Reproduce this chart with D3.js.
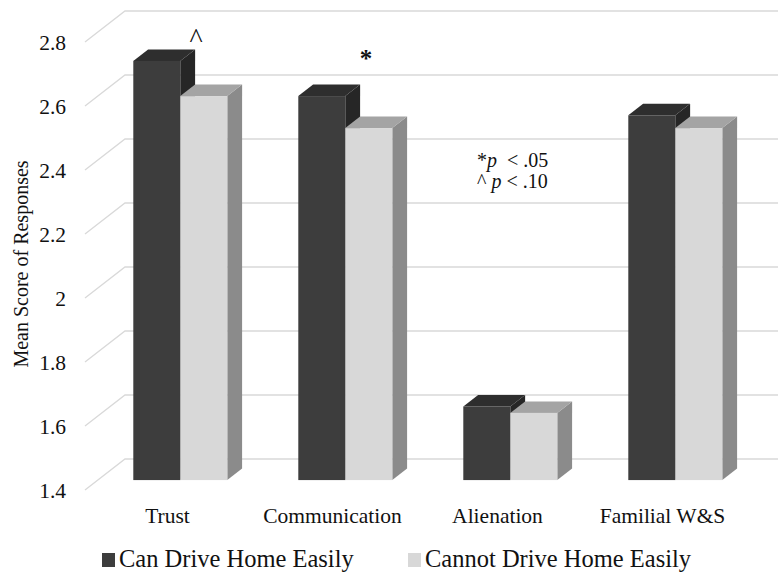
<!DOCTYPE html>
<html>
<head>
<meta charset="utf-8">
<script src="https://cdn.jsdelivr.net/npm/d3@7"></script>
<style>
  html, body { margin: 0; padding: 0; background: #fff; }
  svg { display: block; }
</style>
</head>
<body>
<svg id="chart" width="778" height="574"></svg>
<script>
// ---- data ----
const categories = ["Trust", "Communication", "Alienation", "Familial W&S"];
const seriesNames = ["Can Drive Home Easily", "Cannot Drive Home Easily"];
const canDrive = [2.71, 2.60, 1.63, 2.54];
const cannotDrive = [2.60, 2.50, 1.61, 2.50];
const yTicks = [1.4, 1.6, 1.8, 2, 2.2, 2.4, 2.6, 2.8];
const yTickLabels = ["1.4", "1.6", "1.8", "2", "2.2", "2.4", "2.6", "2.8"];
const sigMarks = [
  { category: "Trust", mark: "^" },
  { category: "Communication", mark: "*" }
];
const noteLines = [["*", "p", "  < .05"], ["^ ", "p", " < .10"]];

const seriesValues = [canDrive, cannotDrive];
const FONT = "Liberation Serif";

// ---- layout / 3D projection ----
const svg = d3.select("#chart").attr("font-family", FONT);
const DX = 40, DY = 31;          // offset from floor front edge to back wall
const Z0 = 0.32, Z1 = 0.69;      // depth of bar front and back faces

const x = d3.scaleBand().domain(categories).range([85, 745]).padding(0);
const inner = d3.scaleBand().domain(seriesNames)
  .range([35.5, x.bandwidth() - 35.5]).padding(0);
const y = d3.scaleLinear().domain([1.4, 2.8]).range([490, 42]);
const base = y.domain()[0];

const px = (xv, z) => xv + z * DX;
const py = (v, z) => y(v) - z * DY;

const faceColors = [
  { front: "#3d3d3d", top: "#2e2e2e", side: "#262626" },
  { front: "#d8d8d8", top: "#a4a4a4", side: "#8b8b8b" }
];

// ---- gridlines: side wall diagonal + back wall horizontal ----
const grid = svg.append("g").attr("class", "grid");
const xl = x.range()[0];
grid.selectAll("path").data(yTicks).join("path")
  .attr("d", v => d3.line()([
    [px(xl, 0), py(v, 0)],
    [px(xl, 1), py(v, 1)],
    [px(x.range()[1], 1), py(v, 1)]
  ]))
  .attr("fill", "none")
  .attr("stroke", "#d9d9d9")
  .attr("stroke-width", 1.3);

// ---- y tick labels ----
svg.append("g").selectAll("text").data(yTicks).join("text")
  .attr("x", 66)
  .attr("y", v => py(v, 0))
  .attr("dy", "0.35em")
  .attr("text-anchor", "end")
  .attr("font-size", 21.5)
  .attr("fill", "#111")
  .text((v, i) => yTickLabels[i]);

// ---- y axis title ----
svg.append("text")
  .attr("transform", "translate(28,264) rotate(-90)")
  .attr("text-anchor", "middle")
  .attr("font-size", 20)
  .attr("fill", "#111")
  .text("Mean Score of Responses");

// ---- 3D bars ----
const bars = [];
categories.forEach((c, ci) => {
  seriesNames.forEach((s, si) => {
    bars.push({ c, s, si, v: seriesValues[si][ci] });
  });
});

const barG = svg.append("g").attr("class", "bars");
bars.forEach(b => {
  const x0 = x(b.c) + inner(b.s);
  const x1 = x0 + inner.bandwidth();
  const col = faceColors[b.si];
  const g = barG.append("g");
  // side face
  g.append("path")
    .attr("d", d3.line()([
      [px(x1, Z0), py(b.v, Z0)], [px(x1, Z1), py(b.v, Z1)],
      [px(x1, Z1), py(base, Z1)], [px(x1, Z0), py(base, Z0)]
    ]) + "Z")
    .attr("fill", col.side);
  // top face
  g.append("path")
    .attr("d", d3.line()([
      [px(x0, Z0), py(b.v, Z0)], [px(x1, Z0), py(b.v, Z0)],
      [px(x1, Z1), py(b.v, Z1)], [px(x0, Z1), py(b.v, Z1)]
    ]) + "Z")
    .attr("fill", col.top);
  // front face
  g.append("rect")
    .attr("x", px(x0, Z0))
    .attr("y", py(b.v, Z0))
    .attr("width", x1 - x0)
    .attr("height", py(base, Z0) - py(b.v, Z0))
    .attr("fill", col.front);
});

// ---- significance markers ----
svg.append("text")
  .attr("x", 196).attr("y", 47)
  .attr("text-anchor", "middle")
  .attr("font-size", 28)
  .attr("fill", "#111")
  .text(sigMarks[0].mark);
svg.append("text")
  .attr("x", 366).attr("y", 67)
  .attr("text-anchor", "middle")
  .attr("font-size", 25)
  .attr("font-weight", "bold")
  .attr("fill", "#111")
  .text(sigMarks[1].mark);

// ---- significance note ----
const note = svg.append("text")
  .attr("font-size", 20)
  .attr("fill", "#111")
  .style("white-space", "pre");
noteLines.forEach((ln, i) => {
  const t = note.append("tspan").attr("x", 477).attr("y", 167 + i * 21);
  t.append("tspan").text(ln[0]);
  t.append("tspan").attr("font-style", "italic").text(ln[1]);
  t.append("tspan").text(ln[2]);
});

// ---- category labels ----
svg.append("g").selectAll("text").data(categories).join("text")
  .attr("x", c => x(c) + x.bandwidth() / 2)
  .attr("y", 523)
  .attr("text-anchor", "middle")
  .attr("font-size", 21.5)
  .attr("fill", "#111")
  .text(c => c);

// ---- legend ----
const legendX = [102, 408];
const leg = svg.append("g").selectAll("g").data(seriesNames).join("g")
  .attr("transform", (d, i) => `translate(${legendX[i]},0)`);
leg.append("rect")
  .attr("x", 0).attr("y", 553).attr("width", 13).attr("height", 14)
  .attr("fill", (d, i) => faceColors[i].front);
leg.append("text")
  .attr("x", 17).attr("y", 567)
  .attr("font-size", 24.5)
  .attr("fill", "#111")
  .text(d => d);
</script>
</body>
</html>
